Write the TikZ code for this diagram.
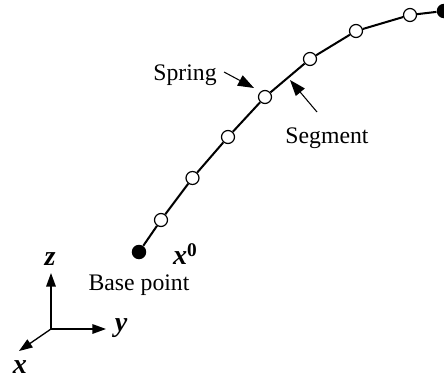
\documentclass[tikz,border=0pt]{standalone}
\usepackage{fontspec}
\setmainfont{Liberation Serif}
\usetikzlibrary{arrows.meta,positioning}
\tikzset{
  joint/.style={circle, draw=black, fill=white, line width=0.7pt, minimum size=0.26cm, inner sep=0pt},
  basepoint/.style={circle, fill=black, minimum size=0.29cm, inner sep=0pt},
  lbl/.style={font=\fontsize{13.5}{16}\selectfont, inner sep=0pt},
  axlbl/.style={font=\fontsize{16}{18}\selectfont\bfseries\itshape, inner sep=0pt},
  ar/.style={-{Triangle[length=0.32cm, width=0.23cm]}, line width=0.6pt},
  axis/.style={-{Triangle[length=0.27cm, width=0.19cm]}, line width=0.75pt}
}
\begin{document}
\begin{tikzpicture}[x=1cm,y=1cm]
  \useasboundingbox (0,0) rectangle (8.88,7.58);
  % filament
  \node[basepoint] (n0) at (2.78,2.54) {};
  \node[joint] (n1) at (3.22,3.18) {};
  \node[joint] (n2) at (3.85,4.02) {};
  \node[joint] (n3) at (4.56,4.84) {};
  \node[joint] (n4) at (5.30,5.64) {};
  \node[joint] (n5) at (6.20,6.40) {};
  \node[joint] (n6) at (7.12,6.96) {};
  \node[joint] (n7) at (8.20,7.28) {};
  \node[basepoint] (n8) at (8.88,7.36) {};
  \draw[line width=1.15pt] (n0) -- (n1) -- (n2) -- (n3) -- (n4) -- (n5) -- (n6) -- (n7) -- (n8);

  % labels
  \node[axlbl] (xzero) at (3.70,2.50) {x\raisebox{0.28em}{\fontsize{11}{12}\selectfont\upshape 0}};
  \node[lbl] (base) at (2.78,1.87) {Base point};
  \node[lbl] (spring) at (3.70,6.08) {Spring};
  \node[lbl] (segment) at (6.54,4.82) {Segment};
  \coordinate (springfrom) at (4.48,6.14);
  \coordinate (springto) at (5.08,5.82);
  \coordinate (segfrom) at (6.34,5.34);
  \coordinate (segto) at (5.80,5.98);
  \draw[ar] (springfrom) -- (springto);
  \draw[ar] (segfrom) -- (segto);

  % axes
  \coordinate (origin) at (1.02,1.00);
  \coordinate (ztip) at (1.02,2.12);
  \coordinate (ytip) at (2.12,1.00);
  \coordinate (xtip) at (0.38,0.56);
  \draw[axis] (origin) -- (ztip);
  \draw[axis] (origin) -- (ytip);
  \draw[axis] (origin) -- (xtip);
  \node[axlbl] (zlab) at (1.00,2.40) {z};
  \node[axlbl] (ylab) at (2.42,1.02) {y};
  \node[axlbl] (xlab) at (0.40,0.24) {x};
\end{tikzpicture}
\end{document}
